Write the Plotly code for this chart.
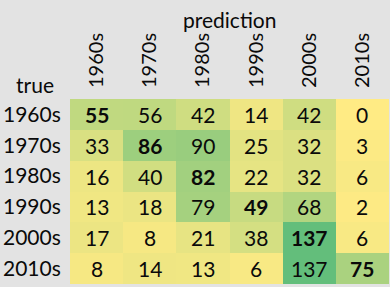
import plotly.graph_objects as go

pred_labels = ["1960s", "1970s", "1980s", "1990s", "2000s", "2010s"]
true_labels = ["1960s", "1970s", "1980s", "1990s", "2000s", "2010s"]
counts = [
    [55, 56, 42, 14, 42, 0],
    [33, 86, 90, 25, 32, 3],
    [16, 40, 82, 22, 32, 6],
    [13, 18, 79, 49, 68, 2],
    [17, 8, 21, 38, 137, 6],
    [8, 14, 13, 6, 137, 75],
]

FONT = "Lato, 'Open Sans', sans-serif"
FS = 21
TXT = "#0a0a0a"

fig = go.Figure(go.Heatmap(
    z=counts, x=pred_labels, y=true_labels,
    colorscale=[[0, "#FFEB84"], [1, "#63BE7B"]],
    zmin=0, zmax=max(max(r) for r in counts),
    showscale=False, xgap=0, ygap=0, hoverinfo="skip",
))

annotations = []
for i, t in enumerate(true_labels):
    for j, p in enumerate(pred_labels):
        v = counts[i][j]
        txt = f"<b>{v}</b>" if i == j else str(v)
        annotations.append(dict(x=p, y=t, text=txt, showarrow=False,
                                font=dict(size=FS, color=TXT, family=FONT)))

annotations.append(dict(text="prediction", x=0.5, xref="paper", y=1.0, yref="paper",
                        yanchor="middle", yshift=(99 - 19), showarrow=False,
                        font=dict(size=FS, color=TXT, family=FONT)))
annotations.append(dict(text="true", x=0, xref="paper", xanchor="right", xshift=-14,
                        y=1.0, yref="paper", yanchor="middle", yshift=(99 - 84),
                        showarrow=False, font=dict(size=FS, color=TXT, family=FONT)))

fig.update_layout(
    width=390, height=287,
    margin=dict(l=70, r=1, t=99, b=3, autoexpand=False),
    paper_bgcolor="#E3E3E3", plot_bgcolor="#E3E3E3",
    font=dict(family=FONT, size=FS, color=TXT),
    annotations=annotations,
    xaxis=dict(side="top", tickangle=-90, showgrid=False, zeroline=False, automargin=False,
               ticks="outside", ticklen=6, tickcolor="rgba(0,0,0,0)",
               tickfont=dict(size=20, family=FONT, color=TXT)),
    yaxis=dict(autorange="reversed", showgrid=False, zeroline=False, automargin=False,
               ticks="outside", ticklen=4, tickcolor="rgba(0,0,0,0)",
               tickfont=dict(size=FS, family=FONT, color=TXT)),
)

fig.write_html("out.html", config={"displayModeBar": False},
               post_script="document.body.style.margin='0';document.body.style.padding='0';")
